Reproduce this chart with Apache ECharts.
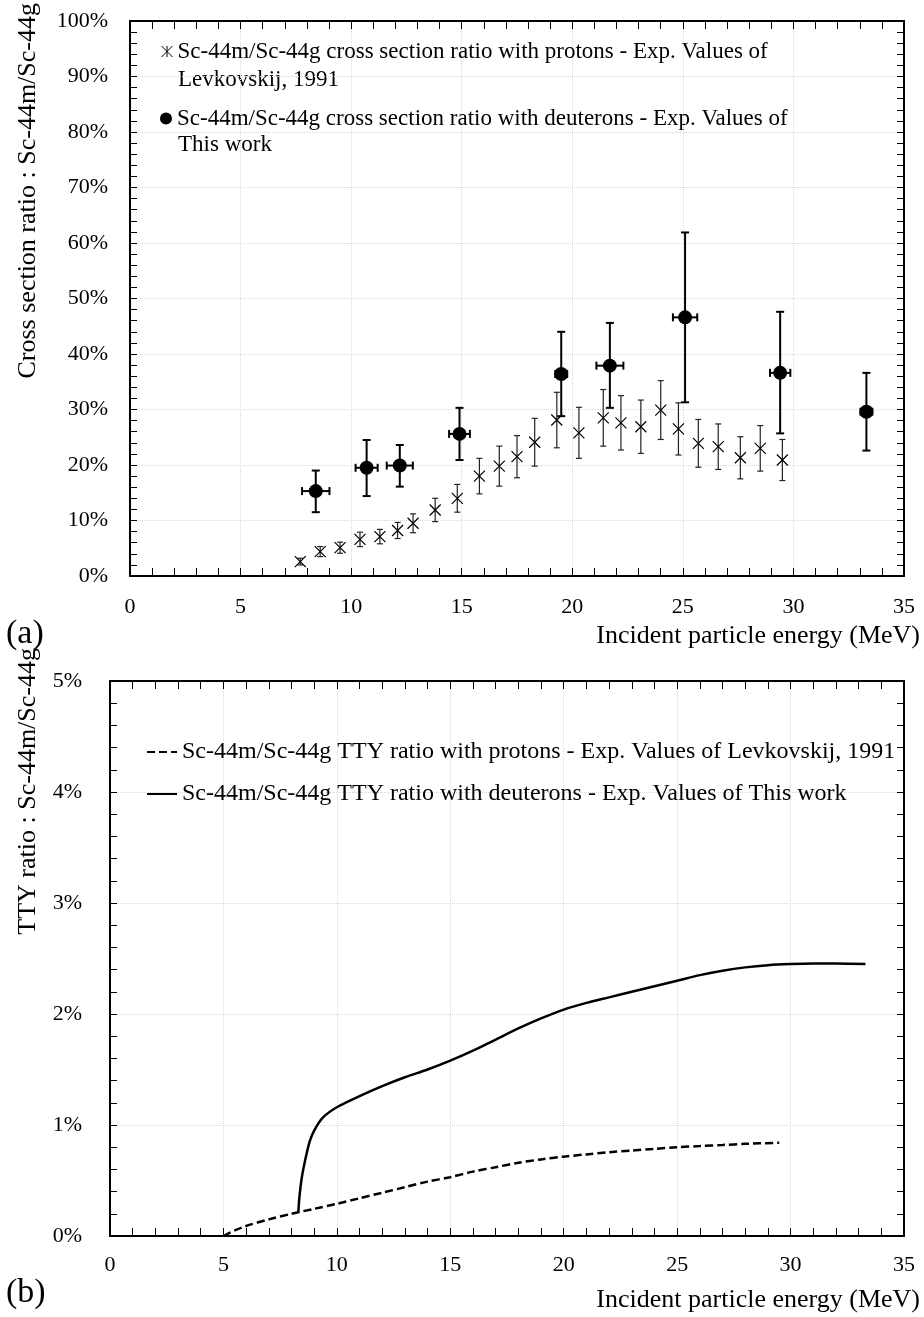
<!DOCTYPE html>
<html>
<head>
<meta charset="utf-8">
<script src="https://cdn.jsdelivr.net/npm/echarts@6/dist/echarts.min.js"></script>
<style>
html,body{margin:0;padding:0;background:#fff}
#chart{width:924px;height:1317px}
</style>
</head>
<body>
<div id="chart"></div>
<script>
// (a) cross section ratio, protons (Levkovskij, 1991)
var protonE = [7.7, 8.6, 9.5, 10.4, 11.3, 12.1, 12.8, 13.8, 14.8, 15.8, 16.7, 17.5, 18.3, 19.3, 20.3, 21.4, 22.2, 23.1, 24.0, 24.8, 25.7, 26.6, 27.6, 28.5, 29.5];
var protonRatio = [2.6, 4.4, 5.1, 6.6, 7.1, 8.2, 9.5, 11.9, 14.0, 18.0, 19.8, 21.5, 24.1, 28.1, 25.8, 28.5, 27.6, 26.9, 29.9, 26.5, 23.9, 23.3, 21.3, 23.0, 20.9];
var protonErr = [0.6, 0.9, 1.0, 1.3, 1.3, 1.45, 1.7, 2.1, 2.5, 3.2, 3.6, 3.8, 4.3, 5.0, 4.6, 5.1, 4.9, 4.8, 5.3, 4.7, 4.3, 4.1, 3.8, 4.1, 3.7];

// (a) cross section ratio, deuterons (this work)
var deutE = [8.4, 10.7, 12.2, 14.9, 19.5, 21.7, 25.1, 29.4, 33.3];
var deutRatio = [15.3, 19.5, 19.9, 25.6, 36.4, 37.9, 46.6, 36.6, 29.6];
var deutErrUp = [3.7, 5.0, 3.7, 4.7, 7.6, 7.7, 15.3, 11.0, 7.0];
var deutErrDown = [3.8, 5.1, 3.8, 4.7, 7.6, 7.6, 15.3, 10.9, 7.0];
var deutEErr = [0.62, 0.5, 0.59, 0.47, 0.27, 0.61, 0.55, 0.46, 0.27];

// (b) TTY ratio curves
var ttyProtonE = [5.0, 5.5, 6.0, 7.0, 8.0, 9.0, 10.0, 11.0, 12.0, 13.0, 14.0, 15.0, 16.0, 17.0, 18.0, 19.0, 20.0, 21.0, 22.0, 23.0, 24.0, 25.0, 26.0, 27.0, 28.0, 29.5];
var ttyProton = [0.0, 0.05, 0.09, 0.15, 0.20, 0.245, 0.29, 0.34, 0.39, 0.44, 0.49, 0.53, 0.58, 0.62, 0.66, 0.69, 0.715, 0.735, 0.755, 0.77, 0.785, 0.80, 0.81, 0.82, 0.83, 0.84];
var ttyDeutE = [8.3, 8.35, 8.45, 8.6, 8.8, 9.0, 9.4, 10.0, 11.0, 12.0, 13.0, 14.0, 15.0, 16.0, 17.0, 18.0, 19.0, 20.0, 21.0, 22.0, 23.0, 24.0, 25.0, 26.0, 27.0, 28.0, 29.0, 30.0, 31.0, 32.0, 33.3];
var ttyDeut = [0.21, 0.35, 0.52, 0.68, 0.85, 0.95, 1.07, 1.16, 1.26, 1.35, 1.43, 1.50, 1.58, 1.67, 1.77, 1.87, 1.96, 2.04, 2.10, 2.15, 2.20, 2.25, 2.30, 2.35, 2.39, 2.42, 2.44, 2.45, 2.455, 2.455, 2.45];

var xTicks = [0, 35, 5];
var protonLabel = ['Sc-44m/Sc-44g cross section ratio with protons - Exp. Values of', 'Levkovskij, 1991'];
var deutLabel = ['Sc-44m/Sc-44g cross section ratio with deuterons - Exp. Values of', 'This work'];
var ttyProtonLabel = 'Sc-44m/Sc-44g TTY ratio with protons - Exp. Values of Levkovskij, 1991';
var ttyDeutLabel = 'Sc-44m/Sc-44g TTY ratio with deuterons - Exp. Values of This work';

var FONT = '"Liberation Serif", "DejaVu Serif", serif';

var myChart = echarts.init(document.getElementById('chart'));

function xAxisFor(grid, pos, margin) {
    return {
        type: 'value', gridIndex: grid, position: pos,
        min: xTicks[0], max: xTicks[1], interval: xTicks[2],
        axisLine: {show: true, onZero: false, lineStyle: {color: '#000', width: 2}},
        axisTick: {show: true, inside: true, length: 8, lineStyle: {color: '#000', width: 1}},
        minorTick: {show: true, splitNumber: 5, length: 8, lineStyle: {color: '#000', width: 1}},
        axisLabel: {show: pos == 'bottom', margin: margin, color: '#000', fontFamily: FONT, fontSize: 22},
        splitLine: {show: pos == 'bottom', lineStyle: {color: '#d9d9d9', type: 'dotted'}}
    };
}

function yAxisFor(grid, pos, max, interval, margin) {
    return {
        type: 'value', gridIndex: grid, position: pos,
        min: 0, max: max, interval: interval,
        axisLine: {show: true, onZero: false, lineStyle: {color: '#000', width: 2}},
        axisTick: {show: true, inside: true, length: 7, lineStyle: {color: '#000', width: 1}},
        minorTick: {show: true, splitNumber: 5, length: 7, lineStyle: {color: '#000', width: 1}},
        axisLabel: {show: pos == 'left', margin: margin, color: '#000', fontFamily: FONT, fontSize: 22, formatter: '{value}%'},
        splitLine: {show: pos == 'left', lineStyle: {color: '#d9d9d9', type: 'dotted'}}
    };
}

// vertical error bars (protons)
function renderProtonErr(params, api) {
    var x = api.value(0), y = api.value(1), e = api.value(2);
    var hi = api.coord([x, y + e]);
    var lo = api.coord([x, y - e]);
    var w = 3;
    var st = {stroke: '#222', lineWidth: 1.2, fill: null};
    return {type: 'group', children: [
        {type: 'line', shape: {x1: hi[0], y1: hi[1], x2: lo[0], y2: lo[1]}, style: st},
        {type: 'line', shape: {x1: hi[0] - w, y1: hi[1], x2: hi[0] + w, y2: hi[1]}, style: st},
        {type: 'line', shape: {x1: lo[0] - w, y1: lo[1], x2: lo[0] + w, y2: lo[1]}, style: st}
    ]};
}

// x and y error bars (deuterons)
function renderDeutErr(params, api) {
    var x = api.value(0), y = api.value(1);
    var up = api.value(2), down = api.value(3), ex = api.value(4);
    var hi = api.coord([x, y + up]);
    var lo = api.coord([x, y - down]);
    var le = api.coord([x - ex, y]);
    var ri = api.coord([x + ex, y]);
    var w = 4;
    var st = {stroke: '#000', lineWidth: 2, fill: null};
    return {type: 'group', children: [
        {type: 'line', shape: {x1: hi[0], y1: hi[1], x2: lo[0], y2: lo[1]}, style: st},
        {type: 'line', shape: {x1: hi[0] - w, y1: hi[1], x2: hi[0] + w, y2: hi[1]}, style: st},
        {type: 'line', shape: {x1: lo[0] - w, y1: lo[1], x2: lo[0] + w, y2: lo[1]}, style: st},
        {type: 'line', shape: {x1: le[0], y1: le[1], x2: ri[0], y2: ri[1]}, style: st},
        {type: 'line', shape: {x1: le[0], y1: le[1] - w, x2: le[0], y2: le[1] + w}, style: st},
        {type: 'line', shape: {x1: ri[0], y1: ri[1] - w, x2: ri[0], y2: ri[1] + w}, style: st}
    ]};
}

var protonData = [];
for (var i = 0; i < protonE.length; i++) {
    protonData.push([protonE[i], protonRatio[i], protonErr[i]]);
}
var deutData = [];
for (var j = 0; j < deutE.length; j++) {
    deutData.push([deutE[j], deutRatio[j], deutErrUp[j], deutErrDown[j], deutEErr[j]]);
}
var ttyProtonData = ttyProtonE.map(function (e, k) { return [e, ttyProton[k]]; });
var ttyDeutData = ttyDeutE.map(function (e, k) { return [e, ttyDeut[k]]; });

var crossPath = 'path://M0,0L10,10M10,0L0,10';
var topLegendText = {color: '#000', fontFamily: FONT, fontSize: 23};
var bottomLegendText = {color: '#000', fontFamily: FONT, fontSize: 24};
var hiddenSymbol = {color: 'rgba(0,0,0,0)', borderColor: 'rgba(0,0,0,0)', borderWidth: 0};

var option = {
    backgroundColor: '#fff',
    animation: false,
    grid: [
        {left: 130, top: 21, width: 774, height: 555},
        {left: 110, top: 681, width: 794, height: 555}
    ],
    xAxis: [
        xAxisFor(0, 'bottom', 20),
        xAxisFor(0, 'top', 0),
        xAxisFor(1, 'bottom', 18),
        xAxisFor(1, 'top', 0)
    ],
    yAxis: [
        yAxisFor(0, 'left', 100, 10, 22),
        yAxisFor(0, 'right', 100, 10, 0),
        yAxisFor(1, 'left', 5, 1, 28),
        yAxisFor(1, 'right', 5, 1, 0)
    ],
    legend: [
        {
            left: 159, top: 40, padding: 0, itemWidth: 11, itemHeight: 12,
            data: [{name: protonLabel.join(' '), icon: 'path://M0,0L10,10M10,0L0,10M5,0L5,10',
                    itemStyle: {color: 'none', borderColor: '#000', borderWidth: 1}}],
            formatter: function () { return protonLabel[0]; },
            textStyle: topLegendText, selectedMode: false
        },
        {
            left: 160, top: 107, padding: 0, itemWidth: 12, itemHeight: 12,
            data: [{name: deutLabel.join(' '), icon: 'circle', itemStyle: {color: '#000', opacity: 1}}],
            formatter: function () { return deutLabel[0]; },
            textStyle: topLegendText, selectedMode: false
        },
        {
            left: 146, top: 740, padding: 0, itemWidth: 30, itemHeight: 14,
            data: [ttyProtonLabel], textStyle: bottomLegendText, selectedMode: false,
            itemStyle: hiddenSymbol
        },
        {
            left: 146, top: 782, padding: 0, itemWidth: 30, itemHeight: 14,
            data: [ttyDeutLabel], textStyle: bottomLegendText, selectedMode: false,
            itemStyle: hiddenSymbol
        }
    ],
    graphic: [
        {type: 'text', x: 178, y: 80, style: {text: protonLabel[1], font: '23px ' + FONT, fill: '#000', verticalAlign: 'middle'}},
        {type: 'text', x: 178, y: 145, style: {text: deutLabel[1], font: '23px ' + FONT, fill: '#000', verticalAlign: 'middle'}},
        {type: 'text', x: 920, y: 636, style: {text: 'Incident particle energy (MeV)', font: '26px ' + FONT, fill: '#000', align: 'right', verticalAlign: 'middle'}},
        {type: 'text', x: 920, y: 1300, style: {text: 'Incident particle energy (MeV)', font: '26px ' + FONT, fill: '#000', align: 'right', verticalAlign: 'middle'}},
        {type: 'text', x: 6, y: 634, style: {text: '(a)', font: '34px ' + FONT, fill: '#000', verticalAlign: 'middle'}},
        {type: 'text', x: 6, y: 1293, style: {text: '(b)', font: '34px ' + FONT, fill: '#000', verticalAlign: 'middle'}},
        {type: 'text', x: 28, y: 3, rotation: Math.PI / 2, style: {text: 'Cross section ratio : Sc-44m/Sc-44g', font: '26px ' + FONT, fill: '#000', align: 'right', verticalAlign: 'middle'}},
        {type: 'text', x: 28, y: 648, rotation: Math.PI / 2, style: {text: 'TTY ratio : Sc-44m/Sc-44g', font: '26px ' + FONT, fill: '#000', align: 'right', verticalAlign: 'middle'}}
    ],
    series: [
        {
            type: 'custom', name: 'protonErr', xAxisIndex: 0, yAxisIndex: 0,
            renderItem: renderProtonErr, data: protonData, encode: {x: 0, y: 1}, z: 2
        },
        {
            type: 'custom', name: 'deutErr', xAxisIndex: 0, yAxisIndex: 0,
            renderItem: renderDeutErr, data: deutData, encode: {x: 0, y: 1}, z: 3
        },
        {
            type: 'scatter', name: protonLabel.join(' '), xAxisIndex: 0, yAxisIndex: 0,
            symbol: crossPath, symbolSize: 11,
            itemStyle: {color: 'none', borderColor: '#000', borderWidth: 1.2, opacity: 1},
            data: protonData.map(function (d) { return [d[0], d[1]]; }), z: 4
        },
        {
            type: 'scatter', name: deutLabel.join(' '), xAxisIndex: 0, yAxisIndex: 0,
            symbol: 'circle', symbolSize: 14,
            itemStyle: {color: '#000', opacity: 1},
            data: deutData.map(function (d) { return [d[0], d[1]]; }), z: 5
        },
        {
            type: 'line', name: ttyProtonLabel, xAxisIndex: 2, yAxisIndex: 2,
            showSymbol: false, symbol: 'none', smooth: 0.3,
            lineStyle: {color: '#000', width: 2.5, type: [8, 4]},
            itemStyle: {color: '#000'},
            data: ttyProtonData
        },
        {
            type: 'line', name: ttyDeutLabel, xAxisIndex: 2, yAxisIndex: 2,
            showSymbol: false, symbol: 'none', smooth: 0.3,
            lineStyle: {color: '#000', width: 2.5},
            itemStyle: {color: '#000'},
            data: ttyDeutData
        }
    ]
};

myChart.setOption(option);
</script>
</body>
</html>
